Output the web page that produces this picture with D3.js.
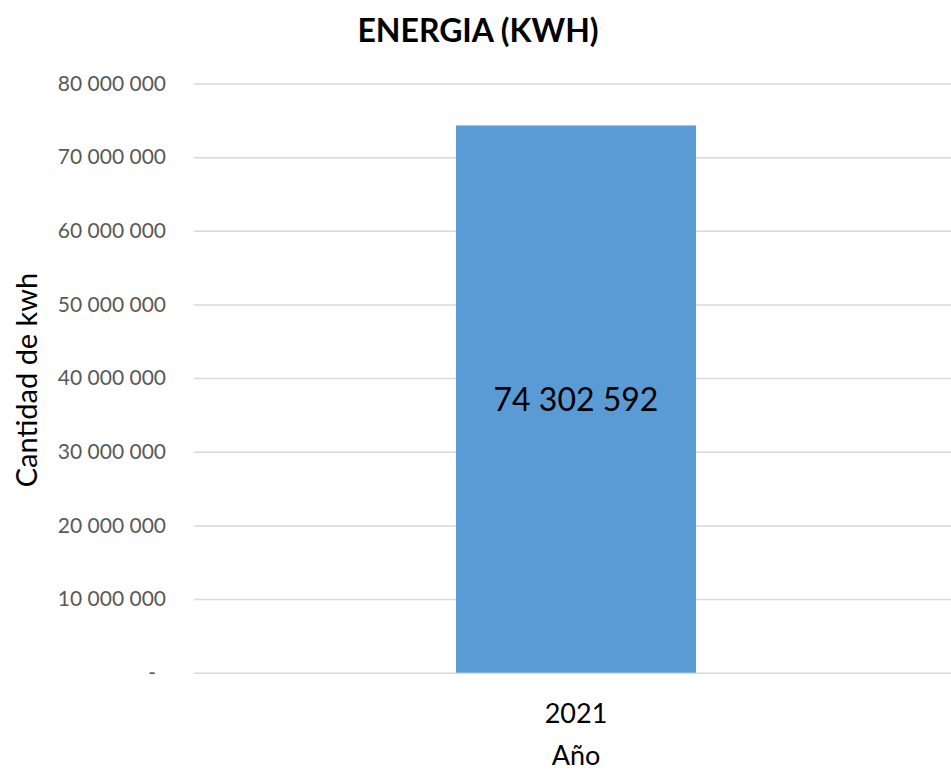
<!DOCTYPE html>
<html>
<head>
<meta charset="utf-8">
<script src="https://cdn.jsdelivr.net/npm/d3@7"></script>
<style>
  body { margin: 0; background: #fff; }
  svg { display: block; }
</style>
</head>
<body>
<svg id="chart" width="951" height="775"></svg>
<script>
// datos del gráfico
const categories = ['2021']
const values = [74302592]
const yTicks = [0, 10000000, 20000000, 30000000, 40000000, 50000000, 60000000, 70000000, 80000000]

const titleText = 'ENERGIA (KWH)'
const yTitle = 'Cantidad de kwh'
const xTitle = 'Año'

const W = 951
const H = 775
const margin = { top: 83.5, right: -7, bottom: 102.3, left: 194 }

const svg = d3.select('#chart')
const font = 'Lato, "Open Sans", sans-serif'

// formato con espacio como separador de miles
const loc = d3.formatLocale({ decimal: ',', thousands: '\u00a0', grouping: [3], currency: ['', ''] })
const fmt = loc.format(',.0f')
const tickFmt = (d) => (d === 0 ? '-' : fmt(d))

// escalas
const x = d3.scaleBand()
  .domain(categories)
  .range([margin.left, W - margin.right])
  .paddingInner(0.522)
  .paddingOuter(0.522)

const y = d3.scaleLinear()
  .domain([0, 80000000])
  .range([H - margin.bottom, margin.top])

// eje Y con líneas de cuadrícula
const yAxis = svg.append('g')
  .attr('transform', `translate(${margin.left},0)`)
  .call(d3.axisLeft(y).tickValues(yTicks).tickFormat(tickFmt).tickSize(0).tickPadding(28))

yAxis.select('.domain').remove()
yAxis.selectAll('.tick text')
  .attr('fill', '#595959')
  .attr('font-family', font)
  .attr('font-size', '21px')
  .attr('dx', (d) => (d === 0 ? -10 : 0))

yAxis.selectAll('.tick')
  .append('line')
  .attr('x1', 0)
  .attr('x2', W - margin.left)
  .attr('stroke', '#d9d9d9')
  .attr('stroke-width', 1.5)

// barras
svg.selectAll('.bar')
  .data(values)
  .enter()
  .append('rect')
  .attr('class', 'bar')
  .attr('x', (d, i) => x(categories[i]))
  .attr('width', x.bandwidth())
  .attr('y', (d) => y(d))
  .attr('height', (d) => y(0) - y(d))
  .attr('fill', '#5b9bd5')

// etiquetas de datos
svg.selectAll('.label')
  .data(values)
  .enter()
  .append('text')
  .attr('class', 'label')
  .attr('x', (d, i) => x(categories[i]) + x.bandwidth() / 2)
  .attr('y', (d) => (y(d) + y(0)) / 2)
  .attr('dy', '0.36em')
  .attr('text-anchor', 'middle')
  .attr('font-family', font)
  .attr('font-size', '32px')
  .attr('fill', '#000')
  .text((d) => fmt(d))

// eje X (solo etiquetas)
const xAxis = svg.append('g')
  .attr('transform', `translate(0,${y(0)})`)
  .call(d3.axisBottom(x).tickSize(0).tickPadding(31))

xAxis.select('.domain').remove()
xAxis.selectAll('.tick text')
  .attr('fill', '#000')
  .attr('font-family', font)
  .attr('font-size', '27px')

// títulos
svg.append('text')
  .attr('x', 478)
  .attr('y', 42)
  .attr('text-anchor', 'middle')
  .attr('font-family', font)
  .attr('font-weight', 'bold')
  .attr('font-size', '32px')
  .attr('fill', '#000')
  .text(titleText)

svg.append('text')
  .attr('transform', 'translate(37,380) rotate(-90)')
  .attr('text-anchor', 'middle')
  .attr('font-family', font)
  .attr('font-size', '29px')
  .attr('fill', '#000')
  .text(yTitle)

svg.append('text')
  .attr('x', x(categories[0]) + x.bandwidth() / 2)
  .attr('y', 765)
  .attr('text-anchor', 'middle')
  .attr('font-family', font)
  .attr('font-size', '27px')
  .attr('fill', '#000')
  .text(xTitle)
</script>
</body>
</html>
